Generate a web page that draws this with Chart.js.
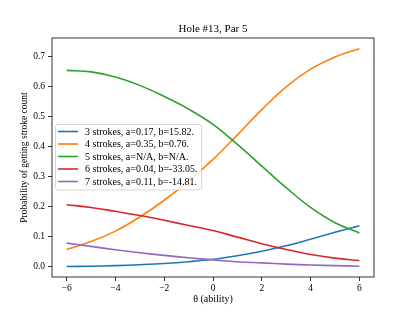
<!DOCTYPE html>
<html><head><meta charset="utf-8">
<script src="https://cdn.jsdelivr.net/npm/chart.js@4/dist/chart.umd.min.js"></script>
<style>html,body{margin:0;padding:0;background:#fff}</style></head><body>
<canvas id="c" width="415" height="312" style="width:415px;height:312px;display:block"></canvas>
<script>
const chartTitle = "Hole #13, Par 5";
const xTitle = "\u03b8 (ability)";
const yTitle = "Probability of getting stroke count";
const theta = [-6,-5,-4,-3,-2,-1,0,1,2,3,4,5,6];
const seriesLabels = [
  "3 strokes, a=0.17, b=15.82.",
  "4 strokes, a=0.35, b=0.76.",
  "5 strokes, a=N/A, b=N/A.",
  "6 strokes, a=0.04, b=-33.05.",
  "7 strokes, a=0.11, b=-14.81."
];
const p3 = [0.001,0.002,0.004,0.007,0.011,0.017,0.025,0.037,0.052,0.070,0.092,0.115,0.137];
const p4 = [0.058,0.084,0.119,0.166,0.222,0.286,0.358,0.440,0.524,0.600,0.659,0.700,0.727];
const p5 = [0.655,0.650,0.633,0.605,0.568,0.526,0.475,0.408,0.336,0.264,0.198,0.147,0.113];
const p6 = [0.207,0.198,0.185,0.171,0.155,0.138,0.121,0.099,0.077,0.058,0.041,0.029,0.021];
const p7 = [0.079,0.068,0.057,0.047,0.038,0.030,0.023,0.017,0.013,0.009,0.006,0.004,0.002];
const xTicks = [-6,-4,-2,0,2,4,6];
const yTicks = [0.0,0.1,0.2,0.3,0.4,0.5,0.6,0.7];
const colors = ["#1f77b4","#ff7f0e","#2ca02c","#d62728","#9467bd"];

const allSeries = [p3,p4,p5,p6,p7];
const datasets = allSeries.map((s,i)=>({
  label: seriesLabels[i],
  data: theta.map((t,j)=>({x:t,y:s[j]})),
  borderColor: colors[i],
  backgroundColor: colors[i],
  borderWidth: 1.6,
  pointRadius: 0,
  fill: false,
  tension: 0.4,
  order: 5 - i
}));

const FONT = "'Liberation Serif', 'DejaVu Serif', serif";

const deco = {
  id: 'deco',
  afterDatasetsDraw(chart) {
    const ctx = chart.ctx, a = chart.chartArea;
    ctx.save();
    ctx.strokeStyle = '#000';
    ctx.lineWidth = 0.8;
    ctx.strokeRect(a.left, a.top, a.right - a.left, a.bottom - a.top);
    ctx.fillStyle = '#000';
    ctx.font = "11px " + FONT;
    ctx.textAlign = 'center';
    ctx.textBaseline = 'middle';
    ctx.fillText(chartTitle, (a.left + a.right) / 2, 29);
    ctx.font = "10px " + FONT;
    ctx.fillText(xTitle, (a.left + a.right) / 2, 299);
    ctx.save();
    ctx.translate(24, (a.top + a.bottom) / 2);
    ctx.rotate(-Math.PI / 2);
    ctx.font = "9.5px " + FONT;
    ctx.fillText(yTitle, 0, 0);
    ctx.restore();
    const lx = 55.5, ly = 124.5, lw = 146, lh = 65.5, r = 2.5;
    ctx.beginPath();
    ctx.moveTo(lx + r, ly);
    ctx.lineTo(lx + lw - r, ly); ctx.quadraticCurveTo(lx + lw, ly, lx + lw, ly + r);
    ctx.lineTo(lx + lw, ly + lh - r); ctx.quadraticCurveTo(lx + lw, ly + lh, lx + lw - r, ly + lh);
    ctx.lineTo(lx + r, ly + lh); ctx.quadraticCurveTo(lx, ly + lh, lx, ly + lh - r);
    ctx.lineTo(lx, ly + r); ctx.quadraticCurveTo(lx, ly, lx + r, ly);
    ctx.closePath();
    ctx.fillStyle = 'rgba(255,255,255,0.8)';
    ctx.fill();
    ctx.strokeStyle = '#cccccc';
    ctx.lineWidth = 0.8;
    ctx.stroke();
    ctx.textAlign = 'left';
    ctx.font = "10px " + FONT;
    chart.data.datasets.forEach((ds, i) => {
      const y = 131.5 + i * 12.5;
      ctx.strokeStyle = ds.borderColor;
      ctx.lineWidth = 1.6;
      ctx.beginPath();
      ctx.moveTo(58, y); ctx.lineTo(78, y);
      ctx.stroke();
      ctx.fillStyle = '#000';
      ctx.fillText(ds.label, 85, y + 0.5);
    });
    ctx.restore();
  }
};

new Chart(document.getElementById('c'), {
  type: 'line',
  data: { datasets },
  options: {
    responsive: false,
    animation: false,
    layout: { padding: { top: 38, right: 41, left: 0, bottom: 0 } },
    plugins: { legend: { display: false }, title: { display: false }, tooltip: { enabled: false } },
    scales: {
      x: {
        type: 'linear', min: -6.6, max: 6.6,
        afterFit(s) { s.height = 35; },
        afterBuildTicks(s) { s.ticks = xTicks.map(v => ({ value: v })); },
        grid: { drawOnChartArea: false, drawTicks: true, tickLength: 4, color: '#000', lineWidth: 0.8 },
        border: { display: false },
        ticks: { padding: 2, color: '#000', maxRotation: 0, autoSkip: false,
          font: { family: FONT, size: 9.5 },
          callback: v => (v < 0 ? '\u2212' + Math.abs(v) : String(v)) }
      },
      y: {
        type: 'linear', min: -0.034, max: 0.763,
        afterFit(s) { s.width = 52; },
        afterBuildTicks(s) { s.ticks = yTicks.map(v => ({ value: v })); },
        grid: { drawOnChartArea: false, drawTicks: true, tickLength: 4, color: '#000', lineWidth: 0.8 },
        border: { display: false },
        ticks: { padding: 3, color: '#000', autoSkip: false,
          font: { family: FONT, size: 9.5 },
          callback: v => v.toFixed(1) }
      }
    }
  },
  plugins: [deco]
});
</script>
</body></html>
